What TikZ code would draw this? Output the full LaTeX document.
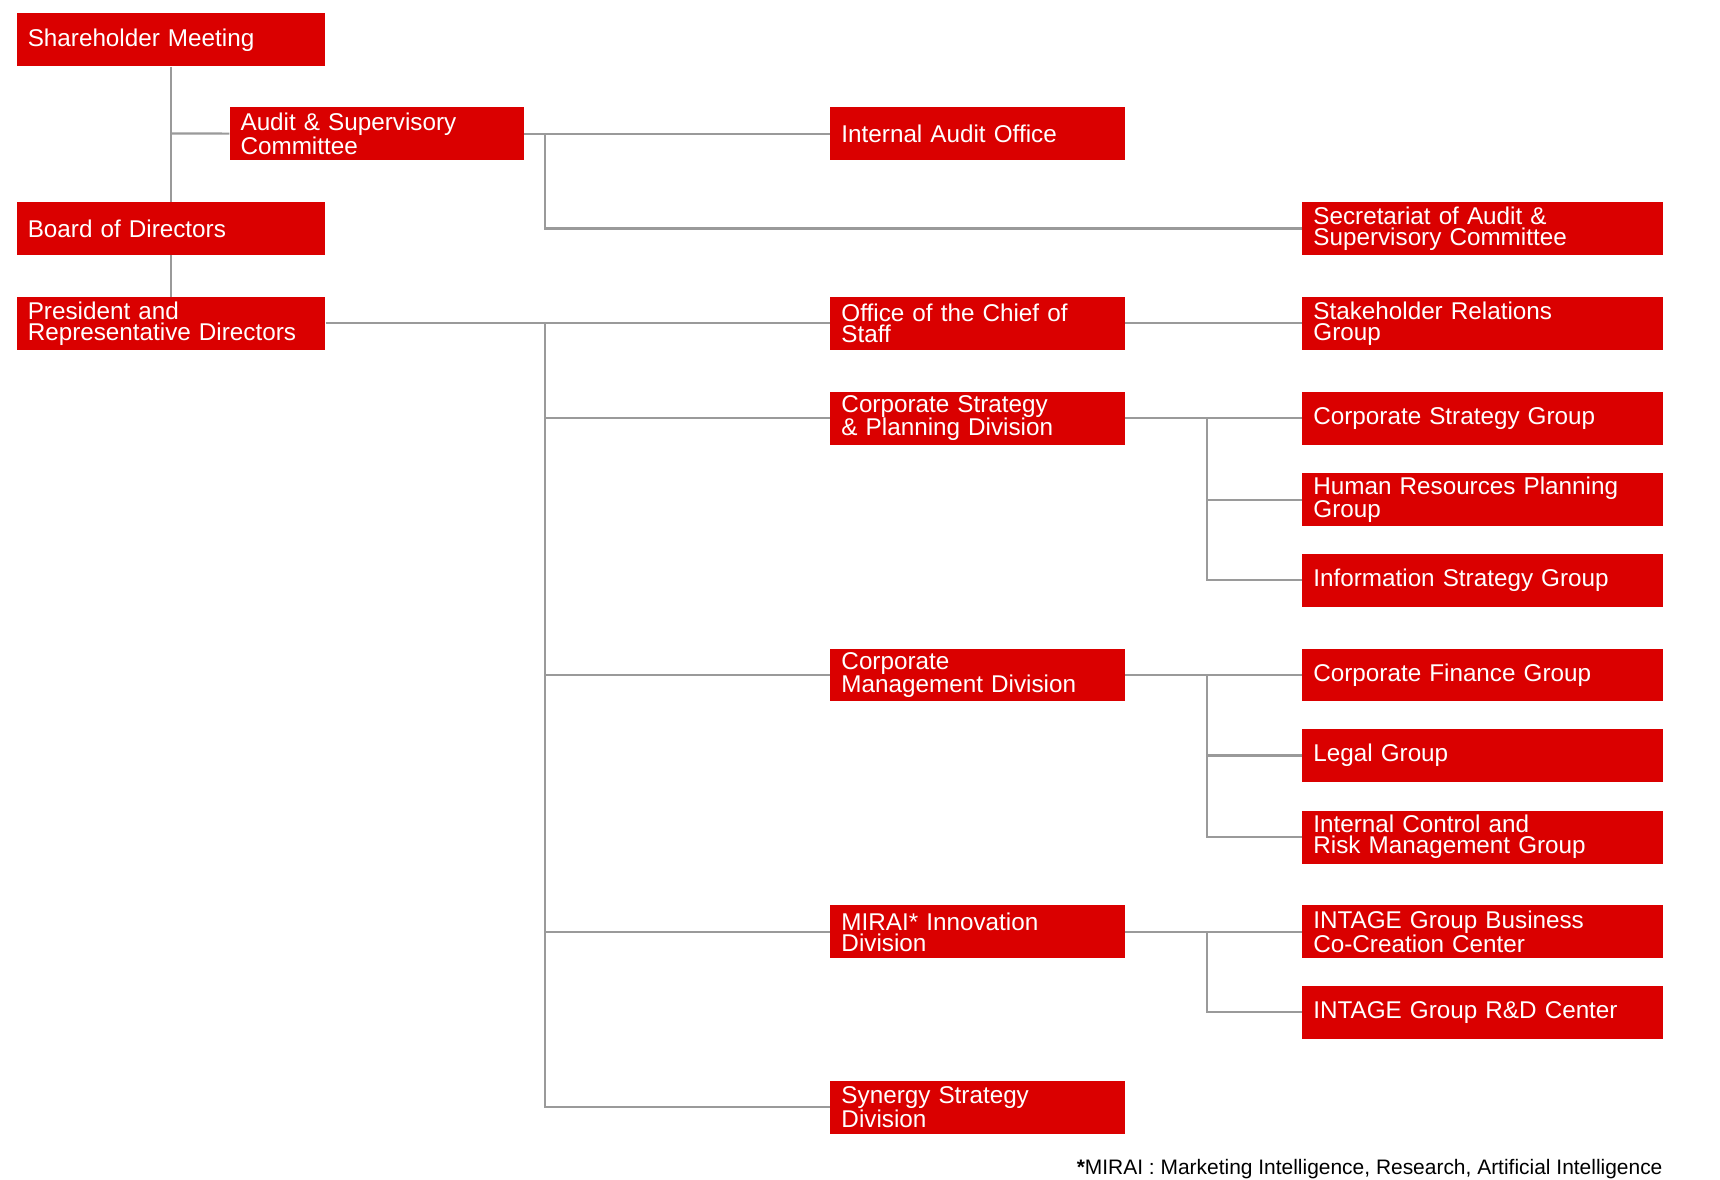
\documentclass[tikz,border=0pt]{standalone}
\usepackage{fontspec}
\setmainfont{Liberation Sans}
\begin{document}
\begin{tikzpicture}[x=1pt,y=-1pt,
  box/.style={fill=boxred,text=white,anchor=north west,inner xsep=10pt,inner ysep=0pt,
    minimum height=48pt,align=left,font=\fontsize{22}{19}\selectfont},
  sbox/.style={box,text width=260pt},
  mbox/.style={box,text width=247pt},
  lbox/.style={box,text width=307pt},
  ln/.style={draw=linegray,line width=2pt}]
\definecolor{boxred}{HTML}{DA0000}
\definecolor{linegray}{HTML}{9A9A9A}
\useasboundingbox (0,0) rectangle (1560,1070);
\node[sbox] (sh) at (15,12) {Shareholder Meeting};
\node[mbox] (aud) at (208,97) {Audit \& Supervisory\\Committee};
\node[mbox] (iao) at (753,97) {Internal Audit Office};
\node[sbox] (bod) at (15,183) {Board of Directors};
\node[lbox] (sec) at (1181,183) {Secretariat of Audit \&\\Supervisory Committee};
\node[sbox] (pre) at (15,269) {President and\\Representative Directors};
\node[mbox] (cos) at (753,269) {Office of the Chief of\\Staff};
\node[lbox] (shr) at (1181,269) {Stakeholder Relations\\Group};
\node[mbox] (csp) at (753,355) {Corporate Strategy\\\& Planning Division};
\node[lbox] (csg) at (1181,355) {Corporate Strategy Group};
\node[lbox] (hrp) at (1181,429) {Human Resources Planning\\Group};
\node[lbox] (isg) at (1181,502) {Information Strategy Group};
\node[mbox] (cmd) at (753,588) {Corporate\\Management Division};
\node[lbox] (cfg) at (1181,588) {Corporate Finance Group};
\node[lbox] (leg) at (1181,661) {Legal Group};
\node[lbox] (icr) at (1181,735) {Internal Control and\\Risk Management Group};
\node[mbox] (mir) at (753,821) {MIRAI* Innovation\\Division};
\node[lbox] (cocr) at (1181,821) {INTAGE Group Business\\Co-Creation Center};
\node[lbox] (rnd) at (1181,894) {INTAGE Group R\&D Center};
\node[mbox] (syn) at (753,980) {Synergy Strategy\\Division};
\node[anchor=base east,inner sep=0pt,font=\fontsize{19}{19}\selectfont] (fn) at (1508,1065) {\textbf{*}MIRAI : Marketing Intelligence, Research, Artificial Intelligence};
% connectors
\coordinate (jA) at (155,121);
\coordinate (jB) at (494,121);
\coordinate (jC) at (494,294);
\coordinate (jD) at (1095,380);
\coordinate (jE) at (1095,612);
\coordinate (jF) at (1095,846);
\draw[ln] (sh.south) -- (bod.north);
\draw[ln] (bod.south) -- (pre.north);
\draw[ln] (jA) -- (aud.west);
\draw[ln] (aud.east) -- (iao.west);
\draw[ln] (jB) |- (sec.west);
\draw[ln] (pre.east) -- (cos.west);
\draw[ln] (jC) |- (syn.west);
\draw[ln] (jC) |- (csp.west);
\draw[ln] (jC) |- (cmd.west);
\draw[ln] (jC) |- (mir.west);
\draw[ln] (cos.east) -- (shr.west);
\draw[ln] (csp.east) -- (csg.west);
\draw[ln] (jD) |- (hrp.west);
\draw[ln] (jD) |- (isg.west);
\draw[ln] (cmd.east) -- (cfg.west);
\draw[ln] (jE) |- (leg.west);
\draw[ln] (jE) |- (icr.west);
\draw[ln] (mir.east) -- (cocr.west);
\draw[ln] (jF) |- (rnd.west);
\end{tikzpicture}
\end{document}
